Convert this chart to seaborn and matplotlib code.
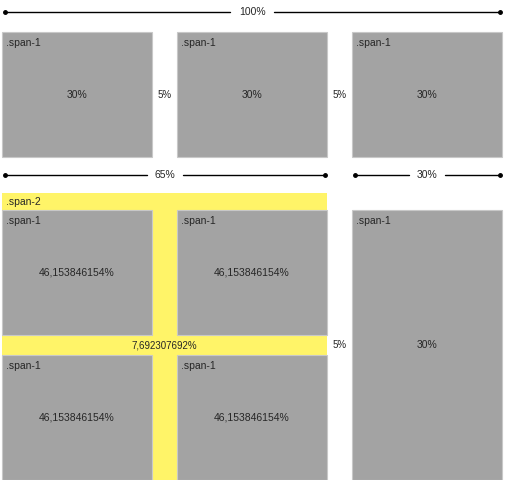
import matplotlib
matplotlib.use("Agg")
import matplotlib.pyplot as plt
import matplotlib.patches as mpatches
import seaborn as sns

sns.set_style("white")
plt.rcParams['font.family'] = ['Liberation Sans', 'DejaVu Sans']

GRAY = "#a3a3a3"
EDGE = "#c8c8c8"
YELLOW = "#fff468"

# grey boxes: x0, y0, x1, y1 (pixel grid), top-left label, centre label
box_x0 = [2, 177, 352, 2, 177, 2, 177, 352]
box_y0 = [32, 32, 32, 210, 210, 355, 355, 210]
box_x1 = [152, 327, 502, 152, 327, 152, 327, 502]
box_y1 = [157, 157, 157, 335, 335, 480, 480, 480]
box_center = ["30%", "30%", "30%", "46,153846154%", "46,153846154%",
              "46,153846154%", "46,153846154%", "30%"]

# dimension lines: x0, x1, y, label
dim_x0 = [5, 5, 355]
dim_x1 = [500, 325, 500]
dim_y = [12, 175, 175]
dim_label = ["100%", "65%", "30%"]

gap_x = [165, 340, 340]
gap_y = [95, 95, 345]
gap_label = ["5%", "5%", "5%"]

fig = plt.figure(figsize=(5.1, 4.8), dpi=100)
ax = fig.add_axes([0, 0, 1, 1])
ax.set_xlim(0, 510)
ax.set_ylim(480, 0)
ax.axis("off")

# yellow span-2 container
ax.add_patch(mpatches.Rectangle((2, 193), 325, 287, facecolor=YELLOW, edgecolor="none"))
ax.text(6, 202, ".span-2", fontsize=7.5, va="center", ha="left")
ax.text(164, 345, "7,692307692%", fontsize=7, va="center", ha="center")

for x0, y0, x1, y1, c in zip(box_x0, box_y0, box_x1, box_y1, box_center):
    ax.add_patch(mpatches.Rectangle((x0, y0), x1 - x0, y1 - y0,
                                    facecolor=GRAY, edgecolor=EDGE, linewidth=0.8))
    ax.text(x0 + 4, y0 + 11, ".span-1", fontsize=7.5, va="center", ha="left")
    ax.text((x0 + x1) / 2, (y0 + y1) / 2 if y1 - y0 < 200 else 345, c,
            fontsize=7.5, va="center", ha="center")

for x0, x1, y, lab in zip(dim_x0, dim_x1, dim_y, dim_label):
    mid = (x0 + x1) / 2
    half = len(lab) * 4 + 6
    ax.plot([x0, mid - half], [y, y], color="black", lw=1)
    ax.plot([mid + half, x1], [y, y], color="black", lw=1)
    ax.plot([x0, x1], [y, y], "o", color="black", ms=2.5)
    ax.text(mid, y, lab, fontsize=7.5, va="center", ha="center")

for x, y, lab in zip(gap_x, gap_y, gap_label):
    ax.text(x, y, lab, fontsize=7, va="center", ha="center")

fig.savefig("out.png", dpi=100)
